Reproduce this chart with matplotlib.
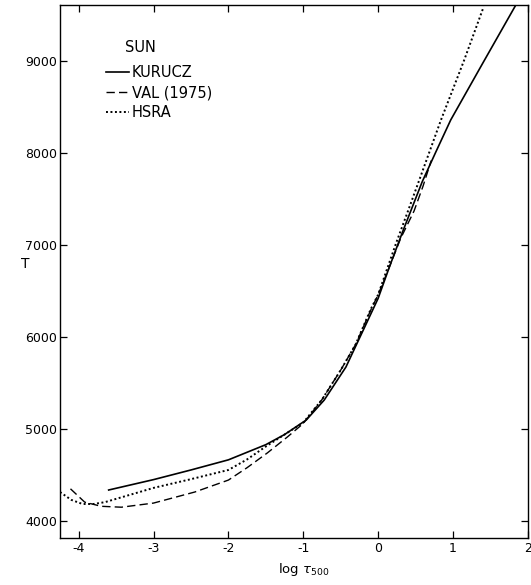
import numpy as np
import matplotlib
matplotlib.use("Agg")
import matplotlib.pyplot as plt

# temperature structure of the solar photosphere
kurucz_logtau = [-3.6, -3.0, -2.5, -2.0, -1.5, -1.25, -0.96, -0.72, -0.43, -0.19,
                 0.0, 0.15, 0.33, 0.59, 0.77, 0.97, 1.4, 1.84]
kurucz_T = [4337, 4450, 4555, 4665, 4830, 4940, 5098, 5315, 5674, 6090,
            6420, 6760, 7150, 7690, 8010, 8360, 8980, 9610]

val_logtau = [-4.11, -3.92, -3.7, -3.43, -3.0, -2.45, -2.0, -1.75, -1.48, -1.21,
              -1.0, -0.75, -0.5, -0.3, -0.1, 0.0, 0.15, 0.3, 0.48, 0.6, 0.71]
val_T = [4350, 4205, 4160, 4150, 4195, 4315, 4445, 4580, 4740, 4915,
         5060, 5320, 5640, 5920, 6290, 6460, 6760, 7070, 7370, 7640, 7920]

hsra_logtau = [-4.25, -4.1, -3.95, -3.8, -3.65, -3.0, -2.5, -2.0, -1.75, -1.5,
               -1.25, -1.0, -0.75, -0.5, -0.3, -0.1, 0.0, 0.24, 0.39, 0.55,
               0.68, 0.84, 1.15, 1.41]
hsra_T = [4315, 4230, 4185, 4185, 4205, 4360, 4455, 4555, 4670, 4810,
          4940, 5070, 5320, 5640, 5920, 6300, 6460, 7020, 7350, 7707,
          8000, 8360, 9011, 9590]

xticks = [-4, -3, -2, -1, 0, 1, 2]
yticks = [4000, 5000, 6000, 7000, 8000, 9000]

plt.rcParams['axes.unicode_minus'] = False

fig = plt.figure(figsize=(5.31, 5.85), dpi=100)
ax = fig.add_axes([0.113, 0.0803, 0.881, 0.9112])

ax.plot(kurucz_logtau, kurucz_T, color='black', lw=1.2, ls='-', label='KURUCZ')
ax.plot(val_logtau, val_T, color='black', lw=1.0, ls=(0, (6, 3)), label='VAL (1975)')
ax.plot(hsra_logtau, hsra_T, color='black', lw=1.4, ls=(0, (1, 1.3)), label='HSRA')

ax.set_xlim(-4.25, 2.0)
ax.set_ylim(3815, 9610)
ax.set_xticks(xticks)
ax.set_yticks(yticks)
ax.tick_params(direction='in', top=True, right=True, length=5, width=0.9,
               labelsize=9, pad=3)
ax.tick_params(axis='y', pad=2)
for s in ax.spines.values():
    s.set_linewidth(1.0)

ax.set_ylabel('T', rotation=0, fontsize=10)
ax.yaxis.set_label_coords(-0.075, 0.50)
ax.set_xlabel(r'log $\tau_{500}$', fontsize=9.5)
ax.xaxis.set_label_coords(0.52, -0.043)

ax.text(0.139, 0.921, 'SUN', transform=ax.transAxes, fontsize=10.5,
        ha='left', va='center')
ax.legend(loc='upper left', bbox_to_anchor=(0.098, 0.888), frameon=False,
          fontsize=10.5, handlelength=1.58, handletextpad=0.2, labelspacing=0.37,
          borderpad=0, borderaxespad=0)

fig.savefig('out.png', dpi=100)
plt.close(fig)
